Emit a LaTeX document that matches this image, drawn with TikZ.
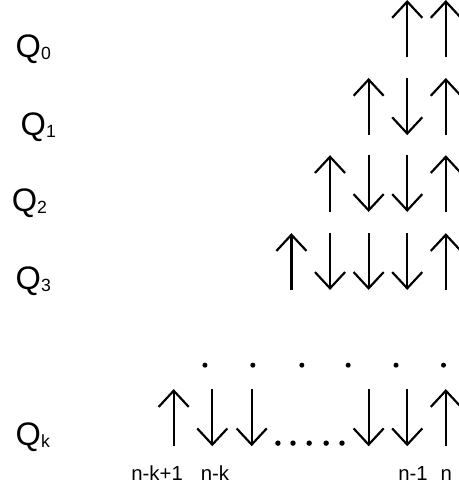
\documentclass[tikz,border=0pt]{standalone}
\usepackage{fontspec}
\setmainfont{Liberation Sans}
\usetikzlibrary{arrows.meta}
\newcommand{\qsub}[1]{{\fontsize{13}{13}\selectfont\raisebox{-1.5pt}{#1}}}

\begin{document}
\begin{tikzpicture}[spin/.style={-{Straight Barb[length=0.42cm,width=0.78cm]}, line width=1.6pt},
    qlab/.style={anchor=base west, inner sep=0pt, font=\fontsize{24}{24}\selectfont},
    site/.style={anchor=base, inner sep=0pt, font=\fontsize{15}{15}\selectfont}]
      \useasboundingbox (0,0) rectangle (11.89,-12.72);
      % row names
      \node (q0) [qlab] at (0.40,-1.48) {Q\qsub{0}};
      \node (q1) [qlab] at (0.53,-3.50) {Q\qsub{1}};
      \node (q2) [qlab] at (0.30,-5.49) {Q\qsub{2}};
      \node (q3) [qlab] at (0.40,-7.51) {Q\qsub{3}};
      \node (qk) [qlab] at (0.40,-11.53) {Q\qsub{k}};
      % Q_0
      \foreach \x in {10.55,11.55} \draw [spin] (\x,-1.48) -- (\x,0);
      % Q_1
      \foreach \x in {9.55,11.55} \draw [spin] (\x,-3.50) -- (\x,-2.02);
      \draw [spin] (10.55,-2.02) -- (10.55,-3.50);
      % Q_2
      \foreach \x in {8.55,11.55} \draw [spin] (\x,-5.49) -- (\x,-4.02);
      \foreach \x in {9.55,10.55} \draw [spin] (\x,-4.02) -- (\x,-5.49);
      % Q_3
      \foreach \x in {7.55,11.55} \draw [spin] (\x,-7.51) -- (\x,-6.04);
      \foreach \x in {8.55,9.55,10.55} \draw [spin] (\x,-6.04) -- (\x,-7.51);
      % vertical dots
      \foreach \x in {5.31,6.55,7.82,9.02,10.26,11.49} \fill (\x,-9.46) circle (0.065);
      % Q_k
      \foreach \x in {4.50,11.55} \draw [spin] (\x,-11.56) -- (\x,-10.08);
      \foreach \x in {5.50,6.52,9.55,10.55} \draw [spin] (\x,-10.08) -- (\x,-11.56);
      \foreach \x in {7.20,7.59,8.01,8.45,8.86} \fill (\x,-11.48) circle (0.07);
      % site labels
      \node (s1) [site] at (4.07,-12.44) {n-k+1};
      \node (s2) [site] at (5.57,-12.44) {n-k};
      \node (s3) [site] at (10.70,-12.44) {n-1};
      \node (s4) [site] at (11.56,-12.44) {n};
\end{tikzpicture}
\end{document}
